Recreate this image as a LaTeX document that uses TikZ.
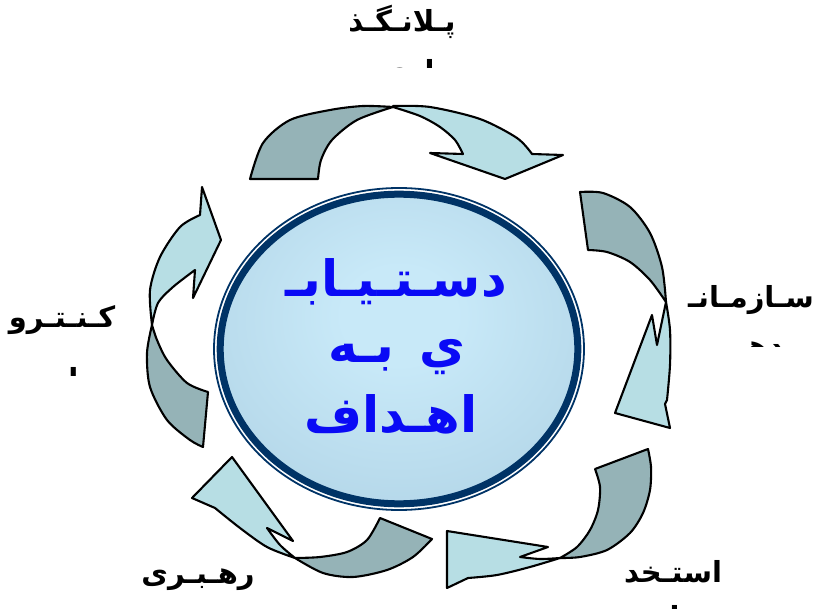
\documentclass[tikz,border=0pt]{standalone}
\usepackage{fontspec}
\TeXXeTstate=1
\newfontfamily\arabicfont[Script=Arabic]{DejaVu Sans Bold}

% Farben
\definecolor{schatten}{RGB}{149,179,183}
\definecolor{hell}{RGB}{183,222,228}
\definecolor{ringblau}{RGB}{0,51,102}
\definecolor{textblau}{RGB}{10,10,245}
\definecolor{mitteinnen}{RGB}{200,233,248}
\definecolor{mitteaussen}{RGB}{165,201,221}

\pgfdeclareradialshading{kugel}{\pgfpoint{0bp}{6bp}}{%
  color(0bp)=(mitteinnen); color(8bp)=(mitteinnen);
  color(50bp)=(mitteaussen); color(100bp)=(mitteaussen)}

\begin{document}
\begin{tikzpicture}[
      x=1pt, y=-1pt, % Pixelkoordinaten
      schwanz/.style={draw=black, line width=2.1pt, line join=round, fill=schatten}, % hinterer Teil
      spitze/.style={draw=black, line width=2.1pt, line join=round, fill=hell}, % Pfeilspitze
      beschriftung/.style={font=\arabicfont\fontsize{29}{44}\selectfont, inner sep=0pt, anchor=base},
      mitte/.style={font=\arabicfont\fontsize{50}{70}\selectfont, text=textblau, inner sep=0pt, anchor=base},
    ]

    \useasboundingbox (0,0) rectangle (818,609);

    % Kreis in der Mitte
    \coordinate (M) at (399,349);
    \fill[shading=kugel] (M) ellipse [x radius=176, y radius=152];
    \draw[ringblau, line width=7pt] (M) ellipse [x radius=178.8, y radius=154.8];
    \draw[ringblau, line width=1.8pt] (M) ellipse [x radius=185, y radius=161];

    \node[mitte] (ziel1) at (396,296) {\beginR دسـتـيـابـ\endR};
    \node[mitte] (ziel2) at (397,362) {\beginR ي\ \,بـه\endR};
    \node[mitte] (ziel3) at (391,432) {\beginR اهـداف\endR};

    % Pfeil oben
    \draw[schwanz] (250,179) -- (318,179)
      -- plot[smooth] coordinates {(318,179) (321,160) (332,140) (357,120) (393,107)}
      -- plot[smooth] coordinates {(393,107) (363,106) (330,110) (290,120) (263,143) (250,179)}
      -- cycle;
    \draw[spitze] (393,106)
      -- plot[smooth] coordinates {(393,106) (430,107) (480,119) (517,138) (532,154)}
      -- (563,155) -- (505,179) -- (430,153) -- (463,154)
      -- plot[smooth] coordinates {(463,154) (455,140) (440,127) (420,116) (393,107)}
      -- cycle;

    % Pfeil rechts
    \draw[schwanz] (580,192) -- (588,250)
      -- plot[smooth] coordinates {(588,250) (607,252) (630,262) (650,280) (666,302)}
      -- plot[smooth] coordinates {(666,302) (662,267) (650,233) (630,207) (603,193) (580,192)}
      -- cycle;
    \draw[spitze] (666,302)
      -- plot[smooth] coordinates {(666,302) (670,330) (670,365) (667,400)}
      -- (665,404) -- (670,428) -- (615,413) -- (652,315) -- (657,345)
      -- cycle;

    % Pfeil unten rechts
    \draw[schwanz] (595,469) -- (648,449)
      -- plot[smooth] coordinates {(648,449) (651,467) (650,490) (643,513) (630,533) (607,550) (580,557) (560,558)}
      -- plot[smooth] coordinates {(560,558) (577,547) (590,530) (598,510) (600,487) (595,469)}
      -- cycle;
    \draw[spitze] (560,558)
      -- plot[smooth] coordinates {(560,558) (530,567) (497,575) (468,578)}
      -- (447,588) -- (447,531) -- (548,547) -- (520,557)
      -- plot[smooth] coordinates {(520,557) (540,559) (560,558)}
      -- cycle;

    % Pfeil unten links
    \draw[schwanz] (380,518) -- (432,539)
      -- plot[smooth] coordinates {(432,539) (413,557) (387,570) (353,577) (323,573) (295,558)}
      -- plot[smooth] coordinates {(295,558) (320,557) (347,552) (367,540) (380,518)}
      -- cycle;
    \draw[spitze] (295,558)
      -- plot[smooth] coordinates {(295,558) (267,547) (240,528) (215,508)}
      -- (192,498) -- (232,457) -- (293,541) -- (267,528)
      -- plot[smooth] coordinates {(267,528) (280,545) (295,558)}
      -- cycle;

    % Pfeil links
    \draw[schwanz] (208,392) -- (203,447)
      -- plot[smooth] coordinates {(203,447) (190,440) (167,420) (150,387) (147,353) (152,325)}
      -- plot[smooth] coordinates {(152,325) (157,340) (167,360) (187,383) (208,392)}
      -- cycle;
    \draw[spitze] (152,325)
      -- plot[smooth] coordinates {(152,325) (150,290) (160,257) (180,227) (200,215)}
      -- (202,187) -- (221,240) -- (193,298) -- (195,270)
      -- plot[smooth] coordinates {(195,270) (173,287) (158,303) (152,325)}
      -- cycle;

    % Beschriftungen
    \node[beschriftung] (plan) at (402,32) {\beginR پـلانـگـذ\endR};
    \node[beschriftung] (organ) at (751,307) {\beginR سـازمـانـ\endR};
    \node[beschriftung] (stab) at (673,582) {\beginR استـخد\endR};
    \node[beschriftung] (fuehr) at (198,583) {\beginR رهـبـری\endR};
    \node[beschriftung] (kontr) at (62,327) {\beginR کـنـتـرو\endR};

    % abgeschnittene zweite Zeilen
    \begin{scope}
      \clip (300,0) rectangle (500,68);
      \node[beschriftung] (plan2) at (408,82) {\beginR اری\endR};
    \end{scope}
    \begin{scope}
      \clip (680,320) rectangle (818,346);
      \node[beschriftung] (organ2) at (746,356) {\beginR دهـی\endR};
    \end{scope}
    \node[beschriftung] (stab2) at (664,627) {\beginR ام\endR};
    \begin{scope}
      \clip (0,340) rectangle (130,375);
      \node[beschriftung] (kontr2) at (66,389) {\beginR ل\endR};
    \end{scope}

  \end{tikzpicture}
\end{document}
